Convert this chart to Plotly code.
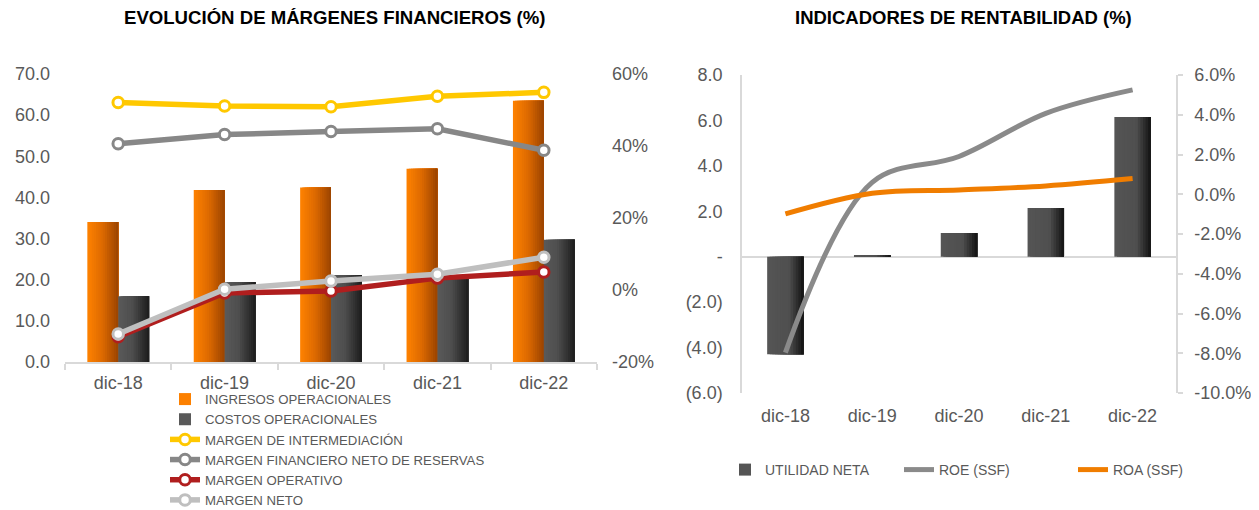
import plotly.graph_objects as go

# ---------------- data ----------------
categories = ["dic-18", "dic-19", "dic-20", "dic-21", "dic-22"]

# left chart
ingresos_operacionales = [34.0, 41.8, 42.4, 47.0, 63.5]
costos_operacionales = [16.0, 19.4, 21.1, 20.8, 29.7]
margen_intermediacion = [52.1, 51.1, 50.9, 53.8, 54.9]
margen_financiero_neto = [40.6, 43.2, 44.0, 44.8, 38.8]
margen_operativo = [-13.0, -0.8, -0.3, 3.3, 5.0]
margen_neto = [-12.2, 0.2, 2.5, 4.4, 9.1]

# right chart
utilidad_neta = [-4.29, 0.05, 1.04, 2.14, 6.15]
roe_ssf = [-7.97, 0.6, 1.9, 4.07, 5.25]
roa_ssf = [-0.99, 0.05, 0.22, 0.42, 0.79]

# tick labels
left_y2_vals = [-20, 0, 20, 40, 60]
left_y2_text = ["-20%", "0%", "20%", "40%", "60%"]
right_y_vals = [-6, -4, -2, 0, 2, 4, 6, 8]
right_y_text = ["(6.0)", "(4.0)", "(2.0)", "-", "2.0", "4.0", "6.0", "8.0"]
right_y2_vals = [-10, -8, -6, -4, -2, 0, 2, 4, 6]
right_y2_text = ["-10.0%", "-8.0%", "-6.0%", "-4.0%", "-2.0%", "0.0%", "2.0%", "4.0%", "6.0%"]

# ---------------- styling ----------------
FONT = "Liberation Sans, Arial, sans-serif"
TXT = "#595959"
AXL = "#D9D9D9"
PAGE_MARGIN = 8                      # default body margin of the html page
W, H = 1259 - PAGE_MARGIN, 510 - PAGE_MARGIN


def px(x):
    """window x pixel -> paper fraction"""
    return (x - PAGE_MARGIN) / W


def py(y):
    """window y pixel -> paper fraction"""
    return 1 - (y - PAGE_MARGIN) / H


def lerp_hex(c1, c2, t):
    a = [int(c1[i:i + 2], 16) for i in (1, 3, 5)]
    b = [int(c2[i:i + 2], 16) for i in (1, 3, 5)]
    return "#%02x%02x%02x" % tuple(round(a[j] + (b[j] - a[j]) * t) for j in range(3))


def gradient_stops(stops, n):
    out = []
    for k in range(n):
        t = (k + 0.5) / n
        for i in range(len(stops) - 1):
            p0, c0 = stops[i]
            p1, c1 = stops[i + 1]
            if p0 <= t <= p1:
                out.append(lerp_hex(c0, c1, (t - p0) / (p1 - p0)))
                break
    return out


def gradient_bars(fig, x, y, name, offset, width, stops, xaxis, yaxis, legend, n=14):
    """Bar series with a horizontal colour gradient, drawn as stacked overlay layers."""
    cols = gradient_stops(stops, n)
    for k, c in enumerate(cols):
        fig.add_trace(go.Bar(
            x=x, y=y, name=name, legendgroup=name, legend=legend,
            showlegend=(k == 0),
            offset=offset + k * width / n, width=width - k * width / n,
            marker=dict(color=c, line=dict(width=0)),
            xaxis=xaxis, yaxis=yaxis, hoverinfo="skip" if k else "x+y+name",
        ))


fig = go.Figure()

ORANGE_STOPS = [(0, "#FF8200"), (0.5, "#DC6900"), (1, "#9A4300")]
DARK_STOPS = [(0, "#5A5A5A"), (0.45, "#4E4E4E"), (1, "#1C1C1C")]
DARK_STOPS_R = [(0, "#555555"), (0.6, "#4F4F4F"), (1, "#111111")]

gradient_bars(fig, categories, ingresos_operacionales, "INGRESOS OPERACIONALES",
              -0.29, 0.29, ORANGE_STOPS, "x", "y", "legend")
gradient_bars(fig, categories, costos_operacionales, "COSTOS OPERACIONALES",
              0.0, 0.29, DARK_STOPS, "x", "y", "legend")

line_specs = [
    ("MARGEN DE INTERMEDIACIÓN", margen_intermediacion, "#FFC800"),
    ("MARGEN FINANCIERO NETO DE RESERVAS", margen_financiero_neto, "#878787"),
    ("MARGEN OPERATIVO", margen_operativo, "#B01E1E"),
    ("MARGEN NETO", margen_neto, "#BFBFBF"),
]
for nm, vals, col in line_specs:
    fig.add_trace(go.Scatter(
        x=categories, y=vals, name=nm, mode="lines+markers", legend="legend",
        line=dict(color=col, width=5.5),
        marker=dict(symbol="circle", size=10.5, color="white", line=dict(color=col, width=3)),
        xaxis="x", yaxis="y2",
    ))

gradient_bars(fig, categories, utilidad_neta, "UTILIDAD NETA",
              -0.21, 0.42, DARK_STOPS_R, "x2", "y3", "legend2")
fig.add_trace(go.Scatter(
    x=categories, y=roe_ssf, name="ROE (SSF)", mode="lines", legend="legend2",
    line=dict(color="#8A8A8A", width=5, shape="spline", smoothing=1.0),
    xaxis="x2", yaxis="y4",
))
fig.add_trace(go.Scatter(
    x=categories, y=roa_ssf, name="ROA (SSF)", mode="lines", legend="legend2",
    line=dict(color="#F07D00", width=5, shape="spline", smoothing=1.0),
    xaxis="x2", yaxis="y4",
))

tickfont = dict(family=FONT, size=18, color=TXT)

fig.update_layout(
    width=W, height=H,
    margin=dict(l=0, r=0, t=0, b=0, autoexpand=False),
    paper_bgcolor="white", plot_bgcolor="white",
    barmode="overlay",
    font=dict(family=FONT, color=TXT),
    xaxis=dict(domain=[px(65), px(597)], anchor="y", type="category", range=[-0.5, 4.5],
               showline=True, linecolor=AXL, linewidth=1.5,
               ticks="outside", tickson="boundaries", ticklen=6, tickcolor=AXL, tickwidth=1.5,
               tickfont=tickfont, showgrid=False, ticklabelstandoff=4),
    yaxis=dict(domain=[py(362), py(74)], anchor="x", range=[0, 70], dtick=10, tickformat=".1f",
               showgrid=False, zeroline=False, showline=False, tickfont=tickfont,
               ticklabelstandoff=14),
    yaxis2=dict(overlaying="y", side="right", anchor="x", range=[-20, 60],
                tickvals=left_y2_vals, ticktext=left_y2_text,
                showgrid=False, zeroline=False, showline=False, tickfont=tickfont,
                ticklabelstandoff=14),
    xaxis2=dict(domain=[px(742), px(1176)], anchor="y3", type="category", range=[-0.5, 4.5],
                showline=False, ticks="", tickfont=tickfont, showgrid=False,
                ticklabelstandoff=10),
    yaxis3=dict(domain=[py(393), py(75)], anchor="x2", range=[-6, 8],
                tickvals=right_y_vals, ticktext=right_y_text,
                showgrid=False, showline=True, linecolor=AXL, linewidth=1.5,
                zeroline=True, zerolinecolor=AXL, zerolinewidth=1.5,
                tickfont=tickfont, ticklabelstandoff=14),
    yaxis4=dict(overlaying="y3", side="right", anchor="x2", range=[-10, 6],
                tickvals=right_y2_vals, ticktext=right_y2_text,
                showgrid=False, zeroline=False, showline=True, linecolor=AXL, linewidth=1.5,
                ticks="outside", ticklen=5, tickcolor=AXL, tickwidth=1.5,
                tickfont=tickfont, ticklabelstandoff=8),
    legend=dict(x=px(165), y=py(384), xanchor="left", yanchor="top",
                orientation="v", font=dict(family=FONT, size=13.2, color=TXT),
                bgcolor="rgba(0,0,0,0)", traceorder="normal"),
    legend2=dict(x=px(725), y=py(470), xanchor="left", yanchor="middle",
                 orientation="h", font=dict(family=FONT, size=14, color=TXT),
                 bgcolor="rgba(0,0,0,0)", entrywidth=129, entrywidthmode="pixels"),
    annotations=[
        dict(text="<b>EVOLUCIÓN DE MÁRGENES FINANCIEROS (%)</b>", x=px(334), y=py(18),
             xref="paper", yref="paper", showarrow=False, xanchor="center", yanchor="middle",
             font=dict(family=FONT, size=18.6, color="#000000")),
        dict(text="<b>INDICADORES DE RENTABILIDAD (%)</b>", x=px(963), y=py(18),
             xref="paper", yref="paper", showarrow=False, xanchor="center", yanchor="middle",
             font=dict(family=FONT, size=18.5, color="#000000")),
    ],
)

fig.write_html("out.html")
